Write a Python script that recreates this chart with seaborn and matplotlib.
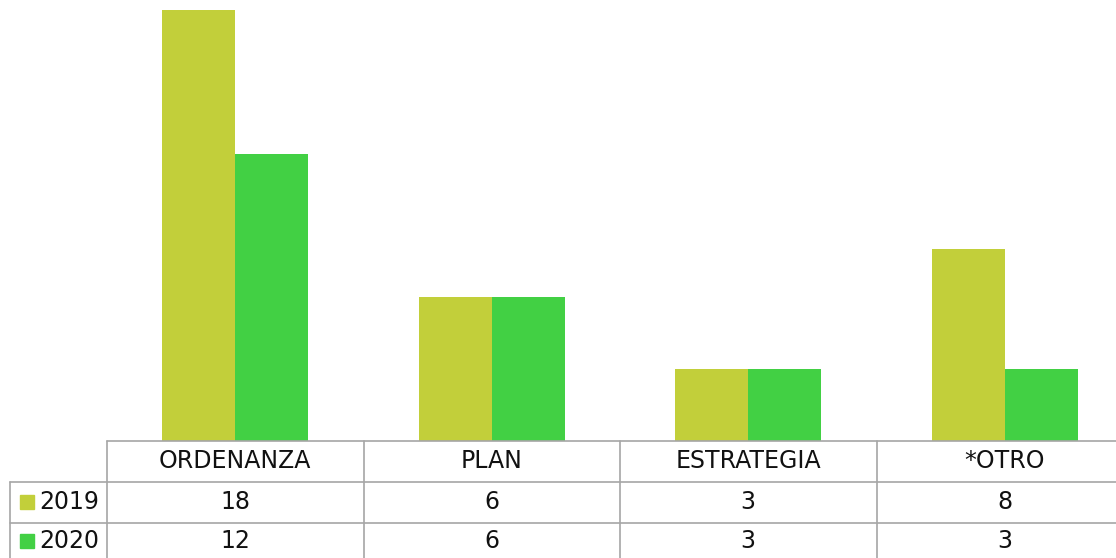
import pandas as pd
import matplotlib
matplotlib.use("Agg")
import matplotlib.pyplot as plt
import matplotlib.transforms as mtransforms
from matplotlib.patches import Rectangle
import seaborn as sns

# datos
categorias = ["ORDENANZA", "PLAN", "ESTRATEGIA", "*OTRO"]
anios = ["2019", "2020"]
valores_2019 = [18, 6, 3, 8]
valores_2020 = [12, 6, 3, 3]
colores = ["#C2CF3A", "#42D044"]

df = pd.DataFrame({
    "categoria": categorias * 2,
    "anio": [anios[0]] * 4 + [anios[1]] * 4,
    "valor": valores_2019 + valores_2020,
})

sns.set_theme(style="white")
plt.rcParams["font.family"] = ["DejaVu Sans"]

W, H = 1116, 558
fig = plt.figure(figsize=(W / 100, H / 100), dpi=100)

# area de barras: categorias de 256.5 px desde x=107
ax = fig.add_axes([107 / W, (H - 441) / H, 4 * 256.5 / W, 431 / H])
sns.barplot(data=df, x="categoria", y="valor", hue="anio", palette=colores,
            width=0.57, gap=0, ax=ax, legend=False, saturation=1,
            linewidth=0, edgecolor="none")
ax.set_xlim(-0.5, 3.5)
ax.set_ylim(0, 18)
ax.set_xlabel("")
ax.set_ylabel("")
ax.set_xticks([])
ax.set_yticks([])
sns.despine(ax=ax, left=True, bottom=True)

# tabla de datos (coordenadas en pixeles)
tax = fig.add_axes([0, 0, 1, (H - 441) / H])
tax.set_xlim(0, W)
tax.set_ylim(H, 441)
tax.axis("off")
blend = mtransforms.blended_transform_factory(ax.transData, tax.transData)

gris = "#A6A6A6"
lw = 1.2
y_top, y_r1, y_r2, y_bot = 441, 482, 523, 560
x_end = len(categorias) - 0.5

tax.plot([-0.5, x_end], [y_top, y_top], color=gris, lw=lw, transform=blend, clip_on=False)
for yy in (y_r1, y_r2):
    tax.plot([10, W + 40], [yy, yy], color=gris, lw=lw, clip_on=False)
tax.plot([10, 10], [y_r1, y_bot], color=gris, lw=lw, clip_on=False)
for i in range(len(categorias) + 1):
    xb = i - 0.5
    tax.plot([xb, xb], [y_top, y_bot], color=gris, lw=lw, transform=blend, clip_on=False)

fs = 17
txt = "#111111"
for i, cat in enumerate(categorias):
    tax.text(i, (y_top + y_r1) / 2, cat, ha="center", va="center",
             fontsize=fs, color=txt, transform=blend)
    tax.text(i, (y_r1 + y_r2) / 2, str(valores_2019[i]), ha="center", va="center",
             fontsize=fs, color=txt, transform=blend)
    tax.text(i, (y_r2 + y_bot) / 2, str(valores_2020[i]), ha="center", va="center",
             fontsize=fs, color=txt, transform=blend)

for anio, col, (ya, yb) in zip(anios, colores, [(y_r1, y_r2), (y_r2, y_bot)]):
    yc = (ya + yb) / 2
    tax.add_patch(Rectangle((20, yc - 7), 14, 14, color=col, clip_on=False))
    tax.text(39, yc, anio, ha="left", va="center", fontsize=fs, color=txt)

fig.savefig("out.png", dpi=100)
